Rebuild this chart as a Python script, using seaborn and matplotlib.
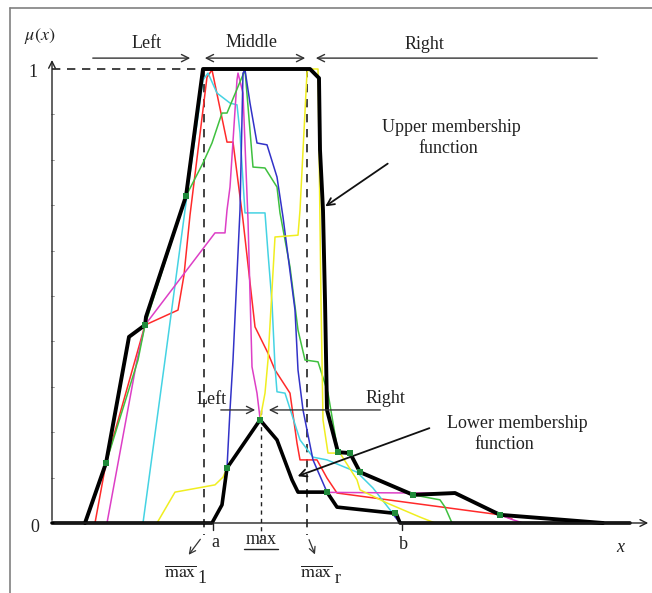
import numpy as np
import pandas as pd
import matplotlib
matplotlib.use("Agg")
import matplotlib.pyplot as plt
import seaborn as sns

sns.set_theme(style="white")
plt.rcParams['font.family'] = ['Liberation Serif', 'DejaVu Serif']
plt.rcParams['mathtext.fontset'] = 'stix'

# ---------------- data (x in drawing units, mu = membership grade) ----------------
upper_x = [85, 106, 129, 145, 146, 186, 203, 310, 319, 320, 323, 325, 327, 338, 350, 360, 413, 455, 500, 603]
upper_mu = [0, 0.132, 0.410, 0.436, 0.454, 0.720, 1.0, 1.0, 0.980, 0.822, 0.689, 0.491, 0.249, 0.156, 0.154,
            0.112, 0.062, 0.066, 0.018, 0]

lower_x = [52, 212, 222, 227, 260, 277, 292, 298, 327, 337, 392, 396, 400, 630]
lower_mu = [0, 0, 0.040, 0.121, 0.227, 0.183, 0.095, 0.068, 0.068, 0.035, 0.022, 0.022, 0, 0]

red_x = [95, 106, 145, 178, 184, 190, 207, 212, 227, 233, 243, 255, 268, 275, 290, 297, 300, 317, 327, 337, 500, 512]
red_mu = [0, 0.132, 0.436, 0.469, 0.546, 0.678, 0.982, 0.998, 0.839, 0.839, 0.667, 0.432, 0.374, 0.337, 0.286,
          0.176, 0.139, 0.139, 0.099, 0.066, 0.018, 0.009]

cyan_x = [143, 165, 185, 203, 208, 217, 230, 237, 240, 245, 265, 268, 272, 275, 277, 285, 300, 313, 327, 357,
          373, 390, 402]
cyan_mu = [0, 0.359, 0.689, 0.976, 0.991, 0.947, 0.925, 0.921, 0.859, 0.683, 0.683, 0.595, 0.485, 0.344, 0.289,
           0.286, 0.183, 0.145, 0.139, 0.112, 0.077, 0.029, 0]

magenta_x = [107, 137, 145, 215, 225, 227, 230, 237, 238, 243, 248, 252, 257, 260, 277, 292, 298, 413, 455, 500,
             513, 523]
magenta_mu = [0, 0.359, 0.436, 0.639, 0.639, 0.689, 0.740, 0.976, 0.991, 0.947, 0.667, 0.344, 0.286, 0.231,
              0.183, 0.095, 0.068, 0.066, 0.066, 0.018, 0.007, 0]

green_x = [85, 106, 138, 145, 186, 203, 212, 222, 227, 245, 253, 265, 277, 280, 290, 298, 305, 318, 328, 338,
           350, 360, 413, 440, 445, 452]
green_mu = [0, 0.132, 0.359, 0.436, 0.720, 0.793, 0.837, 0.903, 0.903, 0.998, 0.784, 0.782, 0.740, 0.683, 0.564,
            0.425, 0.359, 0.355, 0.286, 0.156, 0.154, 0.112, 0.062, 0.051, 0.035, 0]

blue_x = [212, 222, 227, 230, 233, 240, 243, 245, 250, 257, 267, 277, 283, 295, 298, 303, 313, 327, 337, 392, 400]
blue_mu = [0, 0.040, 0.121, 0.249, 0.359, 0.689, 0.991, 0.998, 0.925, 0.837, 0.833, 0.762, 0.674, 0.469, 0.337,
           0.249, 0.139, 0.068, 0.035, 0.022, 0]

yellow_x = [157, 175, 215, 223, 227, 260, 265, 268, 275, 298, 300, 307, 309, 318, 321, 323, 328, 340, 357, 360,
            387, 420, 435]
yellow_mu = [0, 0.068, 0.084, 0.101, 0.121, 0.227, 0.286, 0.359, 0.630, 0.634, 0.689, 0.993, 1.0, 1.0, 0.491,
             0.227, 0.154, 0.154, 0.095, 0.073, 0.044, 0.013, 0]

dots_x = [106, 145, 186, 227, 260, 327, 338, 350, 360, 395, 413, 500]
dots_mu = [0.132, 0.436, 0.720, 0.121, 0.227, 0.068, 0.156, 0.154, 0.112, 0.022, 0.062, 0.018]

series = [
    ("red", red_x, red_mu, "#ff2a2a"),
    ("cyan", cyan_x, cyan_mu, "#45d3e3"),
    ("magenta", magenta_x, magenta_mu, "#dd3fc6"),
    ("green", green_x, green_mu, "#3fc03f"),
    ("blue", blue_x, blue_mu, "#3232c8"),
    ("yellow", yellow_x, yellow_mu, "#f0ee20"),
]

# ---------------- figure ----------------
fig = plt.figure(figsize=(6.52, 5.93), dpi=100)
ax = fig.add_axes([0, 0, 1, 1])
ax.set_xlim(0, 652)
ax.set_ylim(-0.1542, 1.1520)
ax.axis('off')

# frame of the picture
ax.plot([10, 652], [1.134, 1.134], color='#808080', lw=1.2)
ax.plot([10, 10], [1.134, -0.1542], color='#808080', lw=1.2)

# coordinate axes
ax.annotate('', xy=(52, 1.026), xytext=(52, 0), arrowprops=dict(arrowstyle='->', lw=1.0, color='#222222',
                                                                    mutation_scale=12))
ax.annotate('', xy=(651, 0), xytext=(52, 0), arrowprops=dict(arrowstyle='->', lw=1.0, color='#222222',
                                                                mutation_scale=12))
for t in np.arange(0.1, 1.0, 0.1):
    ax.plot([51, 54], [t, t], color='#888888', lw=0.6)

# guide dashed lines
ax.plot([52, 203], [1.0, 1.0], color='#222222', lw=1.2, dashes=(5, 4))
ax.plot([204, 204], [1.0, -0.026], color='#222222', lw=1.2, dashes=(5, 4))
ax.plot([307, 307], [1.0, -0.026], color='#222222', lw=1.2, dashes=(5, 4))
ax.plot([261, 261], [0.249, -0.033], color='#222222', lw=1.0, dashes=(3, 3))

# colored membership functions
for name, xs, ms, col in series:
    sns.lineplot(x=xs, y=ms, ax=ax, sort=False, estimator=None, color=col, lw=1.1)

# upper and lower membership functions
sns.lineplot(x=upper_x, y=upper_mu, ax=ax, sort=False, estimator=None, color='black', lw=2.8)
sns.lineplot(x=lower_x, y=lower_mu, ax=ax, sort=False, estimator=None, color='black', lw=2.6)
sns.scatterplot(x=dots_x, y=dots_mu, ax=ax, marker='s', s=18, color='#1f8a3a', edgecolor='none', zorder=5)

fs = 13
txt = dict(fontsize=fs, color='#222222', ha='center', va='center')
ax.text(40, 1.073, r'$\mu(x)$', **txt)
ax.text(33, 0.993, '1', **txt)
ax.text(35, -0.009, '0', **txt)

# top arrows
ax.text(147, 1.057, 'Left', **txt)
ax.text(252, 1.059, 'Middle', **txt)
ax.text(424, 1.055, 'Right', **txt)
arr = dict(lw=1.0, color='#333333', mutation_scale=13)
ax.annotate('', xy=(193, 1.024), xytext=(90, 1.024), arrowprops=dict(arrowstyle='->', **arr))
ax.annotate('', xy=(202, 1.024), xytext=(308, 1.024), arrowprops=dict(arrowstyle='<->', **arr))
ax.annotate('', xy=(313, 1.024), xytext=(600, 1.024), arrowprops=dict(arrowstyle='->', **arr))

# lower arrows
ax.text(212, 0.271, 'Left', **txt)
ax.text(385, 0.275, 'Right', **txt)
ax.annotate('', xy=(258, 0.249), xytext=(218, 0.249), arrowprops=dict(arrowstyle='->', **arr))
ax.annotate('', xy=(266, 0.249), xytext=(383, 0.249), arrowprops=dict(arrowstyle='->', **arr))

# labels for upper / lower membership functions
ax.text(451, 0.872, 'Upper membership', **txt)
ax.text(448, 0.824, 'function', **txt)
ax.annotate('', xy=(323, 0.694), xytext=(390, 0.795),
            arrowprops=dict(arrowstyle='->', lw=1.3, color='#111111', mutation_scale=13))
ax.text(517, 0.220, 'Lower membership', **txt)
ax.text(504, 0.174, 'function', **txt)
ax.annotate('', xy=(295, 0.101), xytext=(432, 0.211),
            arrowprops=dict(arrowstyle='->', lw=1.3, color='#111111', mutation_scale=13))

# x-axis annotations
ax.plot([213, 213], [0, -0.015], color='#222222', lw=1.0)
ax.plot([402, 402], [0, -0.015], color='#222222', lw=1.0)
ax.text(215, -0.044, 'a', **txt)
ax.text(403, -0.048, 'b', **txt)
ax.text(620, -0.053, 'x', fontsize=fs, color='#222222', ha='center', va='center', style='italic')

ax.text(261, -0.037, 'max', **txt)
ax.plot([244, 278], [-0.057, -0.057], color='#222222', lw=1.0)

ax.text(180, -0.110, r'$\overline{\mathrm{max}}$', **txt)
ax.text(202, -0.123, '1', **txt)
ax.text(316, -0.110, r'$\overline{\mathrm{max}}$', **txt)
ax.text(338, -0.123, 'r', **txt)
ax.annotate('', xy=(187, -0.075), xytext=(202, -0.031),
            arrowprops=dict(arrowstyle='->', lw=0.9, color='#333333', mutation_scale=11))
ax.annotate('', xy=(316, -0.075), xytext=(308, -0.031),
            arrowprops=dict(arrowstyle='->', lw=0.9, color='#333333', mutation_scale=11))

fig.savefig('out.png', dpi=100, facecolor='white')
